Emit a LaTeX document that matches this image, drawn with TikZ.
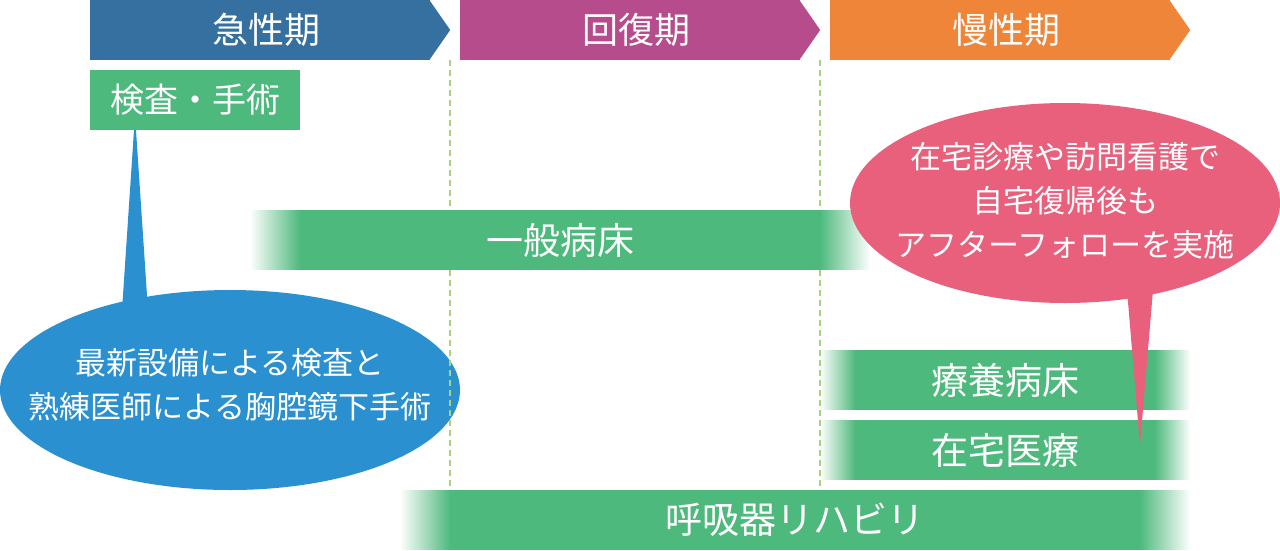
\documentclass[tikz,border=0pt]{standalone}
\usepackage{fontspec}
\setmainfont{Noto Sans CJK JP}
\usetikzlibrary{positioning, shapes.geometric, fadings}
\definecolor{acuteblue}{HTML}{3570A0}
\definecolor{recovmag}{HTML}{B74C8C}
\definecolor{chronorange}{HTML}{EF8539}
\definecolor{bargreen}{HTML}{4DB97C}
\definecolor{guidegreen}{HTML}{A6D47E}
\definecolor{equipblue}{HTML}{2A90D0}
\definecolor{homepink}{HTML}{E8607C}
\tikzfading[name=fadein, left color=transparent!100, right color=transparent!0]
\tikzfading[name=fadeout, left color=transparent!0, right color=transparent!100]
\tikzset{
  phase/.style = {
    shape = rectangle,
    text = white,
    inner sep = 0pt,
    minimum width = 340pt,
    minimum height = 60pt,
    font = \fontsize{36}{40}\selectfont,
    execute at begin node = \hspace*{12pt},
  }
}
\tikzset{
  bar1/.style = {
    shape = rectangle,
    fill = bargreen,
    text = white,
    inner sep = 0pt,
    minimum height = 60pt,
    font = \fontsize{37}{40}\selectfont,
  }
}
\tikzset{
  balloon/.style = {
    shape = ellipse,
    inner sep = 0pt,
  },
  balloontext/.style = {
    text = white,
    align = center,
    font = \fontsize{31}{44}\selectfont,
  },
  guide/.style = {
    draw = guidegreen, line width = 2.2pt, dash pattern = on 6pt off 4pt,
  }
}

\begin{document}
\begin{tikzpicture}[x=1pt, y=-1pt]
        \useasboundingbox (0,0) rectangle (1280,550);
        % phases
        \node[phase, fill = acuteblue](acute) at (260,30){急性期};
        \node[phase, fill = recovmag](recov) at (630,30){回復期};
        \node[phase, fill = chronorange](chron) at (1000,30){慢性期};
        \fill[acuteblue] ([xshift=-1pt]acute.north east) -- ([xshift=20pt]acute.east) -- ([xshift=-1pt]acute.south east) -- cycle;
        \fill[recovmag] ([xshift=-1pt]recov.north east) -- ([xshift=20pt]recov.east) -- ([xshift=-1pt]recov.south east) -- cycle;
        \fill[chronorange] ([xshift=-1pt]chron.north east) -- ([xshift=20pt]chron.east) -- ([xshift=-1pt]chron.south east) -- cycle;
        \node[shape = rectangle, fill = bargreen, text = white, inner sep = 0pt, minimum width = 210pt, minimum height = 60pt, font = \fontsize{34}{40}\selectfont](kensa) at (195,100){検査・手術};
        % blue balloon
        \node[balloon, fill = equipblue, minimum width = 460pt, minimum height = 200pt](equip) at (230,390){};
        \fill[equipblue] ([xshift=-61pt]kensa.south) -- ([xshift=-59pt]kensa.south) -- (148,310) -- (122,310) -- cycle;
        \node[balloontext] at ([yshift=5pt]equip.center){最新設備による検査と\\熟練医師による胸腔鏡下手術};
        % guides
        \draw[guide] ([xshift=20pt]acute.south east) -- ++(0,430);
        \draw[guide] ([xshift=20pt]recov.south east) -- ++(0,430);
        % bars
        \node[bar1, minimum width = 520pt](ippan) at (560,240){一般病床};
        \node[bar1, minimum width = 300pt](ryoyo) at (1005,380){療養病床};
        \node[bar1, minimum width = 300pt](zaitaku) at (1005,450){在宅医療};
        \node[bar1, minimum width = 690pt](rehab) at (795,520){呼吸器リハビリ};
        \fill[bargreen, path fading = fadein] ([xshift=-50pt]ippan.north west) rectangle ([xshift=0.5pt]ippan.south west);
        \fill[bargreen, path fading = fadeout] ([xshift=-0.5pt]ippan.north east) rectangle ([xshift=50pt]ippan.south east);
        \fill[bargreen, path fading = fadein] ([xshift=-35pt]ryoyo.north west) rectangle ([xshift=0.5pt]ryoyo.south west);
        \fill[bargreen, path fading = fadeout] ([xshift=-0.5pt]ryoyo.north east) rectangle ([xshift=35pt]ryoyo.south east);
        \fill[bargreen, path fading = fadein] ([xshift=-35pt]zaitaku.north west) rectangle ([xshift=0.5pt]zaitaku.south west);
        \fill[bargreen, path fading = fadeout] ([xshift=-0.5pt]zaitaku.north east) rectangle ([xshift=35pt]zaitaku.south east);
        \fill[bargreen, path fading = fadein] ([xshift=-50pt]rehab.north west) rectangle ([xshift=0.5pt]rehab.south west);
        \fill[bargreen, path fading = fadeout] ([xshift=-0.5pt]rehab.north east) rectangle ([xshift=50pt]rehab.south east);
        % pink balloon
        \node[balloon, fill = homepink, minimum width = 430pt, minimum height = 200pt](home) at (1065,203){};
        \coordinate (hometip) at (1140,445);
        \fill[homepink] (hometip) -- (1127,290) -- (1153,290) -- cycle;
        \node[balloontext] at ([yshift=2pt]home.center){在宅診療や訪問看護で\\自宅復帰後も\\アフターフォローを実施};
    \end{tikzpicture}
\end{document}
